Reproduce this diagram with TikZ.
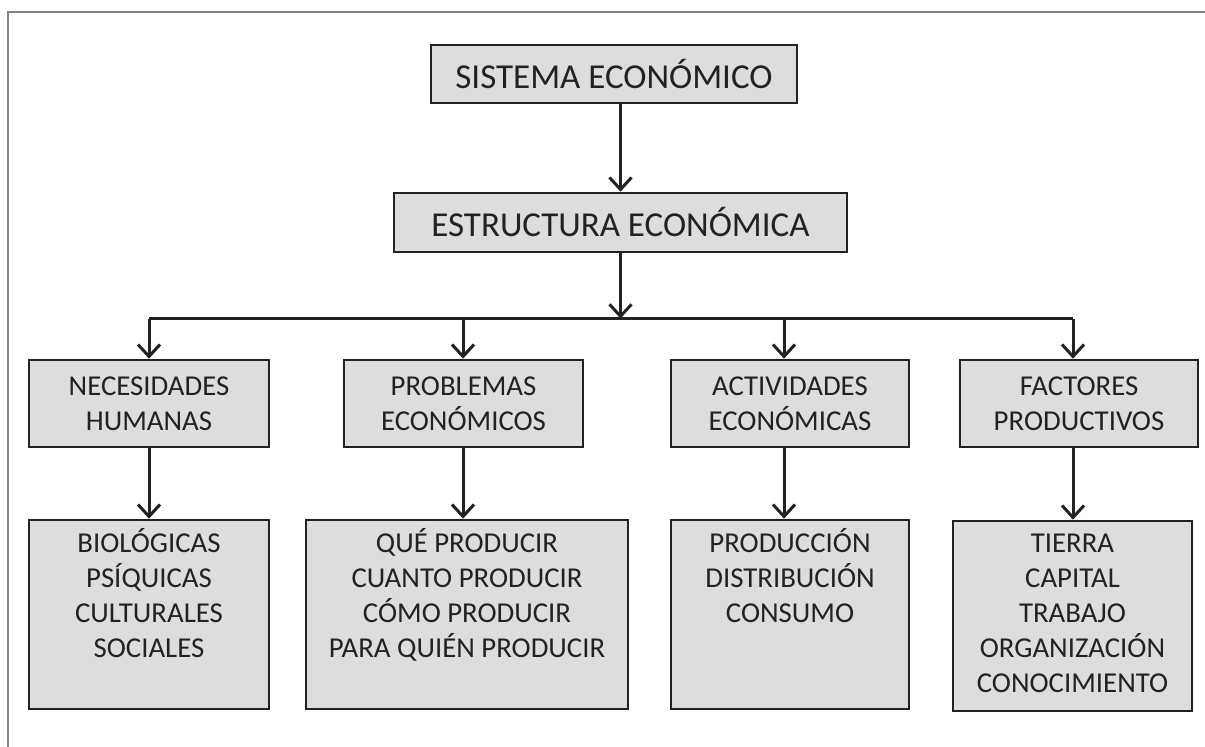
\documentclass[tikz,border=0pt]{standalone}
\usepackage{fontspec}
\setmainfont{Carlito}
\usetikzlibrary{arrows.meta}
\definecolor{boxfill}{HTML}{DCDDDF}
\definecolor{boxline}{HTML}{222222}
\definecolor{framegray}{HTML}{858585}
\definecolor{txt}{HTML}{222222}
\begin{document}
\begin{tikzpicture}[x=1pt,y=-1pt,
  box/.style={draw=boxline, line width=2.6pt, fill=boxfill, inner sep=0pt, text=txt},
  bigtext/.style={font=\fontsize{35}{42}\selectfont},
  midtext/.style={font=\fontsize{28.8}{35}\selectfont, align=center},
  listtext/.style={font=\fontsize{28.8}{35}\selectfont, align=center, anchor=base, inner sep=0pt, text=txt},
  arr/.style={draw=boxline, line width=3pt, -{Straight Barb[length=12pt,width=22pt]}},
  bus/.style={draw=boxline, line width=3pt}]
\useasboundingbox (0,0) rectangle (1205,747);
\draw[framegray, line width=2pt] (1205,12) -- (8,12) -- (8,747);

\node[box, bigtext, minimum width=366pt, minimum height=58pt] (s) at (614,74) {SISTEMA ECONÓMICO};
\node[box, bigtext, minimum width=453pt, minimum height=59pt] (e) at (620.5,222.5) {ESTRUCTURA ECONÓMICA};

\node[box, midtext, minimum width=240pt, minimum height=87pt] (n1) at (149,403.5) {NECESIDADES\\HUMANAS};
\node[box, midtext, minimum width=239pt, minimum height=87pt] (n2) at (463.5,403.5) {PROBLEMAS\\ECONÓMICOS};
\node[box, midtext, minimum width=238pt, minimum height=87pt] (n3) at (790,403.5) {ACTIVIDADES\\ECONÓMICAS};
\node[box, midtext, minimum width=238pt, minimum height=87pt] (n4) at (1079,403.5) {FACTORES\\PRODUCTIVOS};

\node[box, minimum width=240pt, minimum height=189pt] (b1) at (149,614.5) {};
\node[box, minimum width=322pt, minimum height=189pt] (b2) at (467,614.5) {};
\node[box, minimum width=238pt, minimum height=189pt] (b3) at (790,614.5) {};
\node[box, minimum width=239pt, minimum height=190pt] (b4) at (1072.5,616) {};

% anchor=base of a multi-line node is the baseline of its last line
\node[listtext] (b1t) at ([yshift=-139pt]b1.north) {BIOLÓGICAS\\PSÍQUICAS\\CULTURALES\\SOCIALES};
\node[listtext] (b2t) at ([yshift=-139pt]b2.north) {QUÉ PRODUCIR\\CUANTO PRODUCIR\\CÓMO PRODUCIR\\PARA QUIÉN PRODUCIR};
\node[listtext] (b3t) at ([yshift=-104pt]b3.north) {PRODUCCIÓN\\DISTRIBUCIÓN\\CONSUMO};
\node[listtext] (b4t) at ([yshift=-173pt]b4.north) {TIERRA\\CAPITAL\\TRABAJO\\ORGANIZACIÓN\\CONOCIMIENTO};

\coordinate (hub) at (620.5,318.5);
\coordinate (t1) at (149,318.5);
\coordinate (t2) at (463,318.5);
\coordinate (t3) at (784,318.5);
\coordinate (t4) at (1073,318.5);

\draw[arr] (e.north |- s.south) -- (e.north);
\draw[arr] (e.south) -- (hub);
\draw[bus] (t1) -- (t4);
\draw[arr] (t1) -- (t1 |- n1.north);
\draw[arr] (t2) -- (t2 |- n2.north);
\draw[arr] (t3) -- (t3 |- n3.north);
\draw[arr] (t4) -- (t4 |- n4.north);
\draw[arr] (n1.south -| t1) -- (t1 |- b1.north);
\draw[arr] (n2.south -| t2) -- (t2 |- b2.north);
\draw[arr] (n3.south -| t3) -- (t3 |- b3.north);
\draw[arr] (n4.south -| t4) -- (t4 |- b4.north);
\end{tikzpicture}
\end{document}
